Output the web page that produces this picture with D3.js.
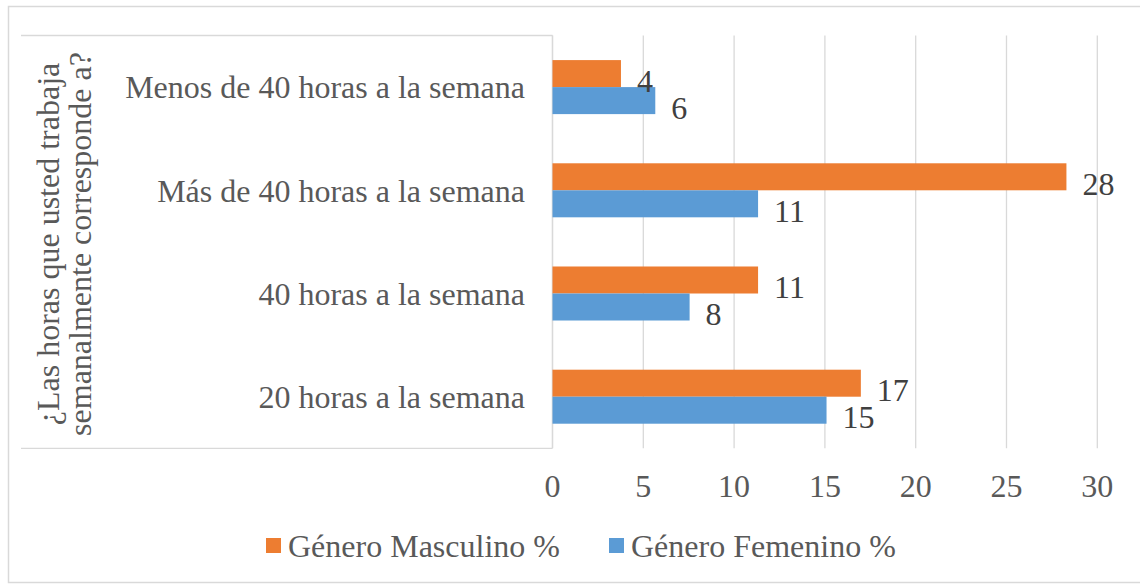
<!DOCTYPE html>
<html><head><meta charset="utf-8">
<script src="https://cdn.jsdelivr.net/npm/d3@7"></script>
<style>
html,body{margin:0;padding:0;background:#fff;}
svg{display:block;font-family:"Liberation Serif","Times New Roman",serif;}
</style></head>
<body><svg id="c" width="1140" height="584"></svg>
<script>
const categories = ["Menos de 40 horas a la semana","Más de 40 horas a la semana","40 horas a la semana","20 horas a la semana"];
const seriesNames = ["Género Masculino %","Género Femenino %"];
const masculino = [3.77, 28.30, 11.32, 16.98];
const femenino  = [5.66, 11.32, 7.55, 15.09];
const tickValues = [0,5,10,15,20,25,30];
const axisTitle = ["¿Las horas que usted trabaja","semanalmente corresponde a?"];
const colors = ["#ED7D31","#5B9BD5"];

(function(){
const svg = d3.select("#c");
const pLeft = 552.5, pRight = 1097.3, pTop = 35.5, pBottom = 448.3;
const fs = 32;

svg.append("rect").attr("x",8.5).attr("y",6.5).attr("width",1200).attr("height",576)
  .attr("fill","none").attr("stroke","#D9D9D9").attr("stroke-width",1.5);

const x = d3.scaleLinear().domain([0,30]).range([pLeft,pRight]);
const y = d3.scaleBand().domain(categories).range([pTop,pBottom]).paddingInner(0.4766).paddingOuter(0.2383);
const ys = d3.scaleBand().domain(seriesNames).range([0,y.bandwidth()]);

svg.append("g").selectAll("line").data(tickValues).join("line")
  .attr("x1",d=>x(d)).attr("x2",d=>x(d)).attr("y1",pTop).attr("y2",pBottom)
  .attr("stroke","#D9D9D9").attr("stroke-width",1.3);

const box = svg.append("g").attr("stroke","#D9D9D9").attr("stroke-width",1.3).attr("fill","none");
box.append("line").attr("x1",21).attr("x2",pLeft).attr("y1",pTop).attr("y2",pTop);
box.append("line").attr("x1",21).attr("x2",pLeft).attr("y1",pBottom).attr("y2",pBottom);
box.append("line").attr("x1",pLeft).attr("x2",pLeft).attr("y1",pTop).attr("y2",pBottom);

const data = categories.map((c,i)=>({c, vals:[masculino[i], femenino[i]]}));
const g = svg.append("g").selectAll("g").data(data).join("g")
  .attr("transform",d=>`translate(0,${y(d.c)})`);
g.selectAll("rect").data(d=>d.vals.map((v,j)=>({v,s:seriesNames[j],j}))).join("rect")
  .attr("x",x(0)).attr("y",d=>ys(d.s)).attr("width",d=>x(d.v)-x(0)).attr("height",ys.bandwidth())
  .attr("fill",d=>colors[d.j]);
g.selectAll("text").data(d=>d.vals.map((v,j)=>({v,s:seriesNames[j],j}))).join("text")
  .attr("x",d=>x(d.v)+16).attr("y",d=>ys(d.s)+ys.bandwidth()/2+7)
  .attr("dy","0.35em").attr("font-size",fs).attr("fill","#404040")
  .text(d=>d3.format(".0f")(d.v));

svg.append("g").selectAll("text").data(categories).join("text")
  .attr("x",525).attr("y",d=>y(d)+y.bandwidth()/2).attr("dy","0.35em")
  .attr("text-anchor","end").attr("font-size",fs).attr("fill","#595959").text(d=>d);

svg.append("g").selectAll("text").data(tickValues).join("text")
  .attr("x",d=>x(d)).attr("y",486).attr("dy","0.35em").attr("text-anchor","middle")
  .attr("font-size",fs).attr("fill","#595959").text(d=>d);

const at = svg.append("text").attr("transform","translate(0,244) rotate(-90)")
  .attr("text-anchor","middle").attr("font-size",fs).attr("fill","#595959");
at.selectAll("tspan").data(axisTitle).join("tspan").attr("x",0).attr("y",(d,i)=>59+i*32).text(d=>d);

const legX = [266, 609];
const lg = svg.append("g").selectAll("g").data(seriesNames).join("g")
  .attr("transform",(d,i)=>`translate(${legX[i]},538)`);
lg.append("rect").attr("width",15).attr("height",15).attr("fill",(d,i)=>colors[i]);
lg.append("text").attr("x",22).attr("y",8).attr("dy","0.35em").attr("font-size",fs)
  .attr("fill","#595959").text(d=>d);
})();
</script></body></html>
